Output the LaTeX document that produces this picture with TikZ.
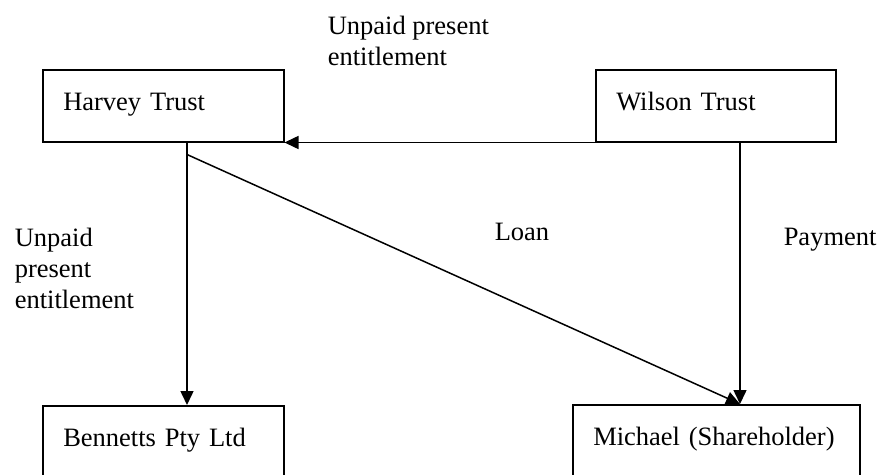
\documentclass[tikz,border=0pt]{standalone}
\usepackage{fontspec}
\setmainfont{Liberation Serif}
\usetikzlibrary{arrows.meta,calc,positioning}

\begin{document}
\begin{tikzpicture}[x=1pt, y=-1pt, line width=1.5pt,
    every node/.style={font=\fontsize{26.5}{31}\selectfont}]
    \tikzset{BoxStyle/.style= {draw,
        anchor      = north west,
        align       = left,
        inner xsep  = 20.5pt,
        inner ysep  = 0pt,
        text height = 41pt,
        text depth  = 31pt},
      EdgeStyle/.style = {-{Triangle[length=14pt,width=13pt]}},
      LabelStyle/.style = {align=left, inner sep=0pt}}
    \clip (0,0) rectangle (878,474);
    \node[BoxStyle, text width=200pt] (harvey) at (42,69) {Harvey Trust};
    \node[BoxStyle, text width=199pt] (wilson) at (595,69) {Wilson Trust};
    \node[BoxStyle, text width=200pt] (bennetts) at (42,405) {Bennetts Pty Ltd};
    \node[BoxStyle, text width=246pt] (michael) at (572,404) {Michael (Shareholder)};
    \draw[EdgeStyle] (wilson.south west) -- (harvey.south east);
    \draw[EdgeStyle] ([xshift=145pt]harvey.south west) -- ([xshift=145pt]bennetts.north west);
    \draw[EdgeStyle] ([xshift=145pt]wilson.south west) -- ([xshift=145pt]wilson.south west |- michael.north);
    \draw[EdgeStyle] ([shift={(145pt,-12pt)}]harvey.south west) -- ([xshift=145pt]wilson.south west |- michael.north);
    \node[LabelStyle, anchor=north west] (upeTop) at (327,15) {Unpaid present\\entitlement};
    \node[LabelStyle, anchor=north west] (upeLeft) at (14,227) {Unpaid\\present\\entitlement};
    \node[LabelStyle, anchor=base west] (loan) at (494,240) {Loan};
    \node[LabelStyle, anchor=base west] (payment) at (783,245) {Payment};
  \end{tikzpicture}
\end{document}
